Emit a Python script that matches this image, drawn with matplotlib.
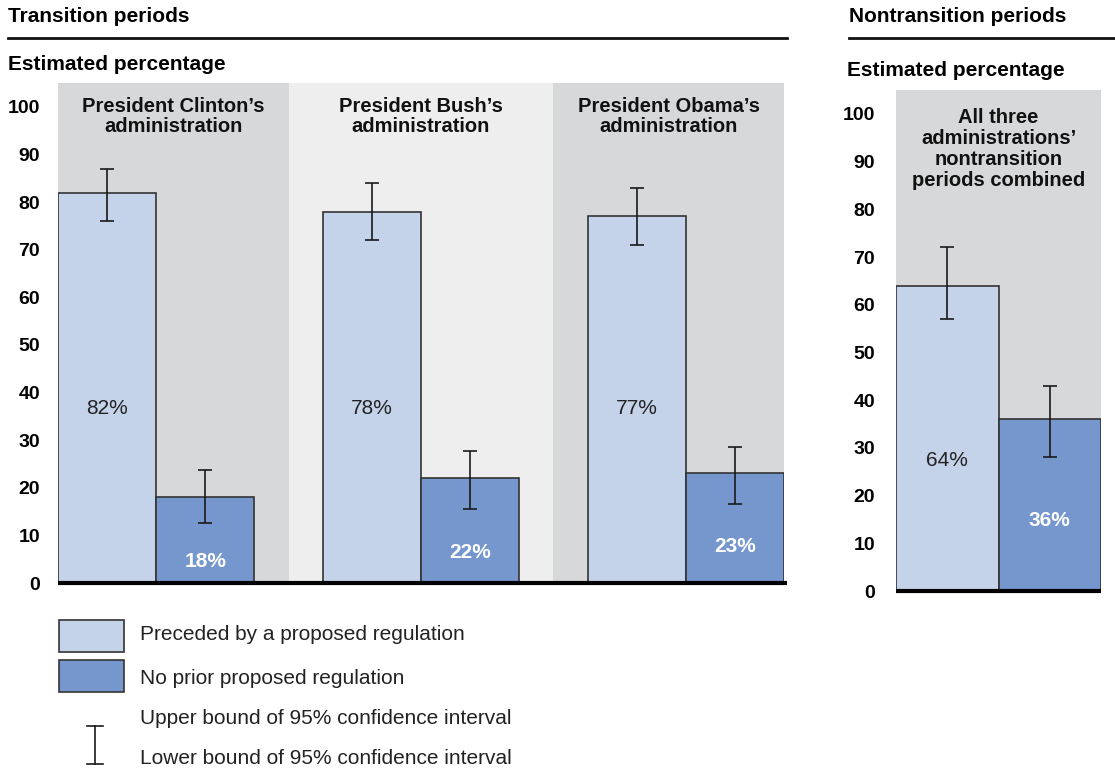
import matplotlib
matplotlib.use("Agg")
import matplotlib.pyplot as plt
import numpy as np
from matplotlib.patches import Rectangle
from matplotlib.lines import Line2D

plt.rcParams['font.family'] = ['Liberation Sans', 'DejaVu Sans']

# ---------------- data ----------------
admins = ["President Clinton\u2019s\nadministration",
          "President Bush\u2019s\nadministration",
          "President Obama\u2019s\nadministration"]
preceded = [82, 78, 77]
no_prior = [18, 22, 23]
preceded_lo = [76, 72, 71]
preceded_hi = [87, 84, 83]
no_prior_lo = [12.6, 15.6, 16.6]
no_prior_hi = [23.7, 27.7, 28.5]

nontrans_title = "All three\nadministrations\u2019\nnontransition\nperiods combined"
nt_preceded = 64
nt_no_prior = 36
nt_preceded_ci = (57, 72)
nt_no_prior_ci = (28, 43)

yticks = list(range(0, 101, 10))
legend_labels = ["Preceded by a proposed regulation",
                 "No prior proposed regulation",
                 "Upper bound of 95% confidence interval",
                 "Lower bound of 95% confidence interval"]

# ---------------- style ----------------
C_LIGHT = "#C5D3EA"
C_DARK = "#7597CD"
BG_GRAY = "#D7D8DA"
BG_LIGHT = "#EEEEEE"
EDGE = "#333333"
ERR = "#1a1a1a"
FS_BODY = 15
FS_TITLE = 14.5
FS_TICK = 14

W, H = 1115, 771
fig = plt.figure(figsize=(W / 100, H / 100), dpi=100)

def fx(px):
    return px / W

def fy(py):
    return 1 - py / H

# ---------------- left panel ----------------
axL = fig.add_axes([fx(58), fy(583), fx(784) - fx(58), fy(83) - fy(583)])
gpos = np.arange(3) * 2.7 + 1.0
xl = (0, gpos[-1] + 1.0)
bounds = [xl[0]] + [(gpos[i] + gpos[i + 1]) / 2 for i in range(2)] + [xl[1]]
bgcols = [BG_GRAY, BG_LIGHT, BG_GRAY]
for i in range(3):
    axL.axvspan(bounds[i], bounds[i + 1], color=bgcols[i], zorder=0, lw=0)

x1 = gpos - 0.5
x2 = gpos + 0.5
axL.bar(x1, preceded, width=1.0, color=C_LIGHT, edgecolor=EDGE, linewidth=1.2, zorder=2)
axL.bar(x2, no_prior, width=1.0, color=C_DARK, edgecolor=EDGE, linewidth=1.2, zorder=2)

p = np.array(preceded); n = np.array(no_prior)
axL.errorbar(x1, p, yerr=[p - np.array(preceded_lo), np.array(preceded_hi) - p],
             fmt='none', ecolor=ERR, elinewidth=1.2, capsize=5.3, capthick=1.2, zorder=3)
axL.errorbar(x2, n, yerr=[n - np.array(no_prior_lo), np.array(no_prior_hi) - n],
             fmt='none', ecolor=ERR, elinewidth=1.2, capsize=5.3, capthick=1.2, zorder=3)

light_label_y = [36.6, 36.6, 36.6]
dark_label_y = [4.5, 6.4, 7.6]
for i in range(3):
    axL.text(x1[i], light_label_y[i], f"{preceded[i]}%", ha='center', va='center',
             fontsize=FS_BODY, color='#222222', zorder=4)
    axL.text(x2[i], dark_label_y[i], f"{no_prior[i]}%", ha='center', va='center',
             fontsize=FS_BODY, color='white', fontweight='bold', zorder=4)
    axL.text((bounds[i] + bounds[i + 1]) / 2, 98, admins[i], ha='center', va='center',
             fontsize=FS_TITLE, fontweight='bold', linespacing=1.05, color='#111111', zorder=4)

axL.set_xlim(*xl)
axL.set_ylim(0, 105)
axL.set_xticks([])
axL.set_yticks(yticks)
axL.set_yticklabels([str(t) for t in yticks], fontsize=FS_TICK, fontweight='bold')
axL.tick_params(axis='y', length=0, pad=13)
for s in axL.spines.values():
    s.set_visible(False)
axL.plot([0, 1.004], [0, 0], transform=axL.get_yaxis_transform(), color='black',
         lw=3, clip_on=False, zorder=5, solid_capstyle='butt')

# ---------------- right panel ----------------
axR = fig.add_axes([fx(896), fy(591), fx(1101) - fx(896), fy(90) - fy(591)])
axR.set_facecolor(BG_GRAY)
axR.bar([0], [nt_preceded], width=1.0, color=C_LIGHT, edgecolor=EDGE, linewidth=1.2, zorder=2)
axR.bar([1], [nt_no_prior], width=1.0, color=C_DARK, edgecolor=EDGE, linewidth=1.2, zorder=2)
axR.errorbar([0], [nt_preceded],
             yerr=[[nt_preceded - nt_preceded_ci[0]], [nt_preceded_ci[1] - nt_preceded]],
             fmt='none', ecolor=ERR, elinewidth=1.2, capsize=5.3, capthick=1.2, zorder=3)
axR.errorbar([1], [nt_no_prior],
             yerr=[[nt_no_prior - nt_no_prior_ci[0]], [nt_no_prior_ci[1] - nt_no_prior]],
             fmt='none', ecolor=ERR, elinewidth=1.2, capsize=5.3, capthick=1.2, zorder=3)
axR.text(0, 27.3, f"{nt_preceded}%", ha='center', va='center', fontsize=FS_BODY,
         color='#222222', zorder=4)
axR.text(1, 14.8, f"{nt_no_prior}%", ha='center', va='center', fontsize=FS_BODY,
         color='white', fontweight='bold', zorder=4)
axR.text(0.5, 92.6, nontrans_title, ha='center', va='center', fontsize=FS_TITLE,
         fontweight='bold', linespacing=1.12, color='#111111', zorder=4)
axR.set_xlim(-0.5, 1.5)
axR.set_ylim(0, 105)
axR.set_xticks([])
axR.set_yticks(yticks)
axR.set_yticklabels([str(t) for t in yticks], fontsize=FS_TICK, fontweight='bold')
axR.tick_params(axis='y', length=0, pad=15)
for s in axR.spines.values():
    s.set_visible(False)
axR.plot([0, 1], [0, 0], transform=axR.get_yaxis_transform(), color='black',
         lw=3, clip_on=False, zorder=5, solid_capstyle='butt')

# ---------------- headers ----------------
fig.text(fx(8), fy(17), "Transition periods", fontsize=FS_BODY, fontweight='bold', va='center', ha='left')
fig.text(fx(849), fy(16), "Nontransition periods", fontsize=FS_BODY, fontweight='bold', va='center', ha='left')
fig.add_artist(Line2D([fx(8), fx(787)], [fy(38), fy(38)], color='#111111', lw=2))
fig.add_artist(Line2D([fx(849), fx(1115)], [fy(38), fy(38)], color='#111111', lw=2))
fig.text(fx(8), fy(65), "Estimated percentage", fontsize=FS_BODY, fontweight='bold', va='center', ha='left')
fig.text(fx(847), fy(70), "Estimated percentage", fontsize=FS_BODY, fontweight='bold', va='center', ha='left')

# ---------------- legend ----------------
fig.add_artist(Rectangle((fx(59), fy(652)), fx(124) - fx(59), fy(620) - fy(652),
                         facecolor=C_LIGHT, edgecolor=EDGE, lw=1.2, transform=fig.transFigure))
fig.add_artist(Rectangle((fx(59), fy(692)), fx(124) - fx(59), fy(660) - fy(692),
                         facecolor=C_DARK, edgecolor=EDGE, lw=1.2, transform=fig.transFigure))
fig.text(fx(140), fy(635), legend_labels[0], fontsize=FS_BODY, va='center', ha='left', color='#222222')
fig.text(fx(140), fy(678), legend_labels[1], fontsize=FS_BODY, va='center', ha='left', color='#222222')
fig.add_artist(Line2D([fx(95), fx(95)], [fy(726), fy(764)], color=ERR, lw=1.2))
fig.add_artist(Line2D([fx(87), fx(103)], [fy(726), fy(726)], color=ERR, lw=1.2))
fig.add_artist(Line2D([fx(87), fx(103)], [fy(764), fy(764)], color=ERR, lw=1.2))
fig.text(fx(140), fy(718), legend_labels[2], fontsize=FS_BODY, va='center', ha='left', color='#222222')
fig.text(fx(140), fy(758), legend_labels[3], fontsize=FS_BODY, va='center', ha='left', color='#222222')

fig.savefig("out.png", dpi=100, facecolor='white')
